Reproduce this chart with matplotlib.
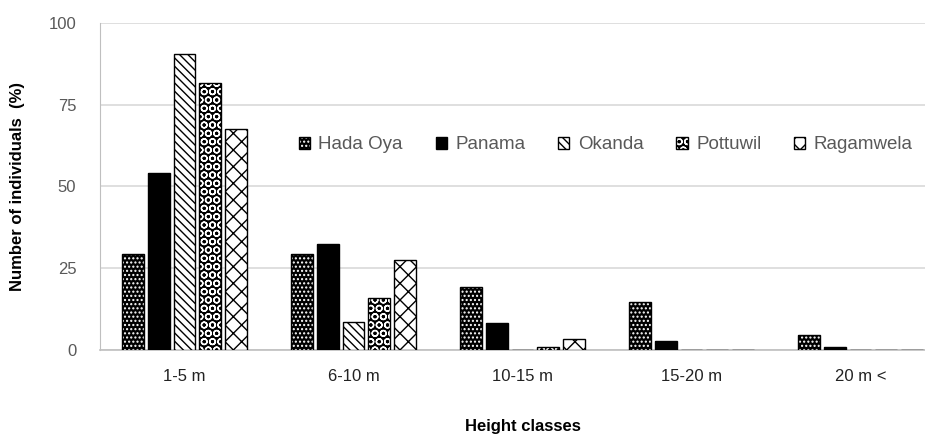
import matplotlib.pyplot as plt
import numpy as np

plt.rcParams['font.family'] = ['Liberation Sans', 'DejaVu Sans']
plt.rcParams['hatch.linewidth'] = 1.0

# datos
clases = ['1-5 m', '6-10 m', '10-15 m', '15-20 m', '20 m <']
sitios = ['Hada Oya', 'Panama', 'Okanda', 'Pottuwil', 'Ragamwela']
hada_oya = [29.5, 29.5, 19.3, 14.7, 4.6]
panama = [54.0, 32.4, 8.3, 2.8, 1.0]
okanda = [90.5, 8.6, 0.0, 0.0, 0.0]
pottuwil = [81.7, 16.0, 1.0, 0.0, 0.0]
ragamwela = [67.6, 27.5, 3.4, 0.0, 0.0]

series = [hada_oya, panama, okanda, pottuwil, ragamwela]
# fondo, trama, color de trama
caras = ['black', 'black', 'white', 'black', 'white']
tramas = ['....', None, '\\\\\\\\', 'OO', 'xx']
color_trama = ['white', 'black', 'black', 'white', 'black']

fig = plt.figure(figsize=(9.25, 4.36), dpi=100)
ax = fig.add_axes([100/925, 86/436, 845/925, 327/436])

x = np.arange(len(clases))
paso = 0.151
ancho = 0.13
gris = '#595959'

manijas = []
for i, (nombre, vals) in enumerate(zip(sitios, series)):
    pos = x + (i - 2)*paso
    base = ax.bar(pos, vals, width=ancho, color=caras[i], edgecolor='none', zorder=3)
    partes = [base[0]]
    if tramas[i]:
        tr = ax.bar(pos, vals, width=ancho, color='none', edgecolor=color_trama[i],
                    hatch=tramas[i], linewidth=0, zorder=4)
        partes.append(tr[0])
    borde = ax.bar(pos, vals, width=ancho, color='none', edgecolor='black',
                   linewidth=1.0, zorder=5)
    partes.append(borde[0])
    manijas.append(tuple(partes))

ax.set_xlim(-0.5, 4.5)
ax.set_ylim(0, 100)
ax.set_yticks([0, 25, 50, 75, 100])
ax.grid(axis='y', color='#d9d9d9', linewidth=1.2, zorder=0)
ax.set_xticks(x)
ax.set_xticklabels(clases, fontsize=12, color='#222222')
ax.tick_params(axis='x', length=0, pad=14)
ax.tick_params(axis='y', length=0, labelsize=12, labelcolor=gris, pad=17)

for s in ['top', 'right']:
    ax.spines[s].set_visible(False)
ax.spines['left'].set_color('#bfbfbf')
ax.spines['bottom'].set_color('#bfbfbf')
ax.spines['bottom'].set_linewidth(1.2)

ax.set_xlabel('Height classes', fontsize=12, fontweight='bold', labelpad=25)
ax.set_ylabel('Number of individuals  (%)', fontsize=12, fontweight='bold', labelpad=17)

leg = ax.legend(manijas, sitios, loc='center left', bbox_to_anchor=(0.235, 0.627), ncol=5,
                frameon=False, fontsize=13.5, handlelength=0.6, handleheight=0.6,
                handletextpad=0.45, columnspacing=1.75, labelcolor=gris,
                borderaxespad=0, borderpad=0)

fig.savefig('out.png', dpi=100)
